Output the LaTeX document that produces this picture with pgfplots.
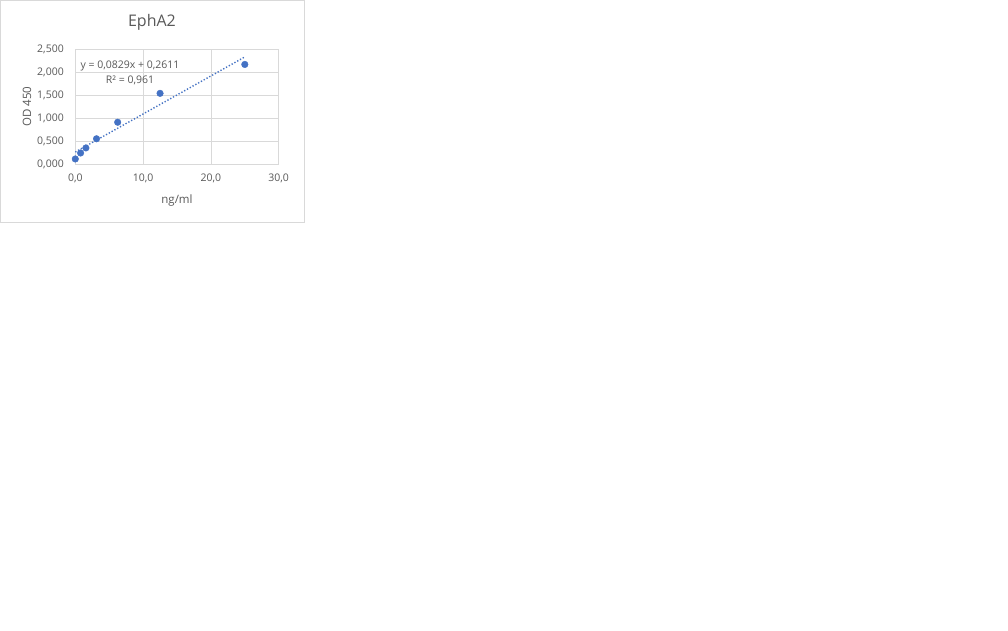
\documentclass[border=0pt]{standalone}
\usepackage{pgfplots}
\pgfplotsset{compat=1.18}
\usepackage{fontspec}
\setmainfont{Open Sans}
\definecolor{txtgray}{HTML}{595959}
\definecolor{gridgray}{HTML}{D9D9D9}
\definecolor{ptblue}{HTML}{4472C4}
\begin{document}
\begin{tikzpicture}
  % page of the reference: 1008 x 630 px, 1 px = 1 pt
  \fill[white] (0,0) rectangle (1008pt,-630pt);
  \draw[gridgray, line width=0.8pt] (0.5pt,-0.5pt) rectangle (304pt,-222.5pt);
  \begin{axis}[
    at={(75.3pt,-164pt)}, anchor=south west,
    scale only axis, width=203.4pt, height=114.7pt,
    xmin=0, xmax=30, ymin=0, ymax=2.5,
    xtick={0,10,20,30}, ytick={0,0.5,1,1.5,2,2.5},
    grid=major, major grid style={gridgray, line width=0.8pt},
    axis line style={gridgray, line width=0.8pt},
    tick style={draw=none},
    clip=false,
    font=\fontsize{10.5}{12}\selectfont,
    ticklabel style={text=txtgray, font=\fontsize{10.5}{12}\selectfont},
    /pgf/number format/assume math mode=true,
    /pgf/number format/use comma,
    /pgf/number format/1000 sep={},
    xticklabel style={/pgf/number format/fixed, /pgf/number format/fixed zerofill, /pgf/number format/precision=1},
    yticklabel style={/pgf/number format/fixed, /pgf/number format/fixed zerofill, /pgf/number format/precision=3},
    xtick pos=bottom, ytick pos=left,
    yticklabel shift=8pt, xticklabel shift=6pt,
    ]
    % trendline from Excel: y = 0,0829x + 0,2611
    \addplot[ptblue, line width=1.4pt, dash pattern=on 1.3pt off 1.9pt] coordinates {(0,0.2611)(25,2.3336)};
    \addplot[only marks, mark=*, mark size=3.3pt, ptblue] coordinates {
      (0,0.11)(0.78,0.24)(1.56,0.35)(3.13,0.55)(6.25,0.91)(12.5,1.54)(25,2.17)};
    \node[text=txtgray, font=\fontsize{10.5}{12}\selectfont, anchor=center] at (axis description cs:0.269,0.854) {y = 0,0829x + 0,2611};
    \node[text=txtgray, font=\fontsize{10.5}{12}\selectfont, anchor=center] at (axis description cs:0.269,0.732) {R² = 0,961};
    % title and axis titles
    \node[text=txtgray, font=\fontsize{16}{18}\selectfont, anchor=center] at (axis description cs:0.377,1.238) {EphA2};
    \node[text=txtgray, font=\fontsize{11.5}{13}\selectfont, anchor=center] at (axis description cs:0.5,-0.314) {ng/ml};
    \node[text=txtgray, font=\fontsize{11.5}{13}\selectfont, anchor=center, rotate=90] at (axis description cs:-0.237,0.5) {OD 450};
  \end{axis}
\end{tikzpicture}
\end{document}
